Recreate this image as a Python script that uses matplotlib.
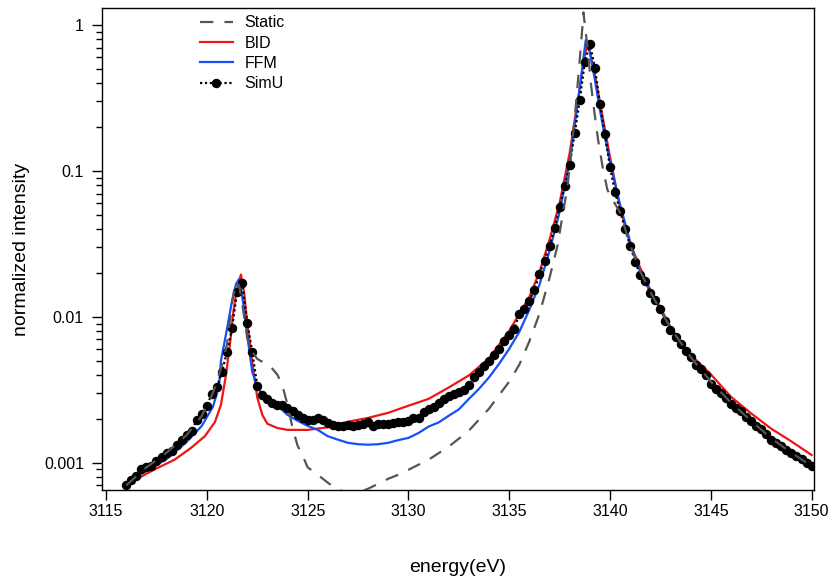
import numpy as np
import matplotlib
matplotlib.use("Agg")
import matplotlib.pyplot as plt
from matplotlib.ticker import FixedLocator, FixedFormatter, LogLocator, NullFormatter

plt.rcParams['font.family'] = ['Liberation Sans', 'DejaVu Sans']

# Static calculation (grey dashed)
static_e = [3116.0, 3117.0, 3118.0, 3119.0, 3119.75, 3120.25, 3120.5, 3120.75, 3121.0,
            3121.25, 3121.45, 3121.6, 3121.8, 3122.0, 3122.25, 3122.5, 3122.75, 3123.0,
            3123.25, 3123.5, 3123.75, 3124.0, 3124.25, 3124.5, 3124.75, 3125.0, 3125.5,
            3126.0, 3126.5, 3127.0, 3127.5, 3128.0, 3128.5, 3129.0, 3129.5, 3130.0, 3131.0,
            3132.0, 3133.0, 3134.0, 3135.0, 3135.5, 3136.0, 3136.5, 3137.0, 3137.4, 3137.65,
            3137.89, 3138.14, 3138.3, 3138.47, 3138.63, 3138.68, 3138.88, 3139.05, 3139.21,
            3139.41, 3139.63, 3139.87, 3140.2, 3140.5, 3141.0, 3141.5, 3142.0, 3143.0,
            3144.0, 3145.0, 3146.0, 3147.0, 3148.0, 3149.0, 3150.0]
static_i = [0.0007, 0.00093, 0.00117, 0.00155, 0.0021, 0.0029, 0.0036, 0.0047, 0.0065,
            0.0125, 0.0176, 0.0163, 0.0112, 0.00718, 0.00576, 0.00515, 0.00492, 0.00469,
            0.00441, 0.00401, 0.00337, 0.0025, 0.00174, 0.00131, 0.00112, 0.00093, 0.000828,
            0.00073, 0.000653, 0.000623, 0.000623, 0.000664, 0.000718, 0.000777, 0.000828,
            0.000895, 0.00105, 0.00129, 0.00166, 0.00235, 0.0036, 0.0047, 0.0068, 0.0105,
            0.0185, 0.031, 0.05, 0.078, 0.163, 0.276, 0.518, 0.97, 1.22, 0.71, 0.399, 0.262,
            0.163, 0.107, 0.0742, 0.061, 0.052, 0.031, 0.0205, 0.0148, 0.0084, 0.0053,
            0.0036, 0.00258, 0.00194, 0.00147, 0.00117, 0.00095]

# BID (red)
bid_e = [3116.0, 3116.5, 3117.4, 3118.4, 3119.2, 3119.9, 3120.4, 3120.7, 3120.95, 3121.2,
         3121.3, 3121.45, 3121.69, 3121.85, 3122.0, 3122.25, 3122.5, 3122.75, 3123.0,
         3123.5, 3124.0, 3125.0, 3126.0, 3127.0, 3128.0, 3129.0, 3130.0, 3131.0, 3132.0,
         3133.0, 3134.0, 3135.0, 3135.5, 3136.0, 3136.5, 3137.0, 3137.5, 3138.0, 3138.25,
         3138.5, 3138.7, 3138.85, 3139.0, 3139.25, 3139.5, 3139.75, 3140.0, 3140.5, 3141.0,
         3141.5, 3142.0, 3142.5, 3143.0, 3143.5, 3144.0, 3145.0, 3146.0, 3147.0, 3148.0,
         3149.0, 3150.0]
bid_i = [0.0007, 0.00077, 0.0009, 0.00105, 0.00126, 0.00152, 0.0019, 0.0025, 0.0040, 0.0075,
         0.0105, 0.0145, 0.0195, 0.0146, 0.0092, 0.0049, 0.0028, 0.00213, 0.00185,
         0.00173, 0.00168, 0.00168, 0.00175, 0.00191, 0.00203, 0.0022, 0.00246, 0.00274,
         0.00328, 0.00397, 0.0052, 0.00802, 0.0105, 0.0137, 0.0203, 0.0337, 0.0604, 0.133,
         0.224, 0.37, 0.575, 0.718, 0.653, 0.455, 0.297, 0.191, 0.125, 0.056, 0.0315,
         0.0217, 0.0153, 0.0115, 0.00855, 0.00675, 0.0055, 0.00404, 0.00283, 0.00218,
         0.00171, 0.0014, 0.00113]

# FFM (blue)
ffm_e = [3116.0, 3116.25, 3117.25, 3118.0, 3119.0, 3119.75, 3120.3, 3120.6, 3120.7, 3121.0,
         3121.25, 3121.45, 3121.6, 3121.8, 3122.0, 3122.25, 3122.5, 3122.75, 3123.0, 3123.5,
         3124.0, 3124.5, 3125.0, 3125.5, 3126.0, 3126.5, 3127.0, 3127.5, 3128.0, 3128.5,
         3129.0, 3129.5, 3130.0, 3130.5, 3131.0, 3131.5, 3132.0, 3132.5, 3133.0, 3133.5,
         3134.0, 3134.5, 3135.0, 3135.5, 3136.0, 3136.5, 3137.0, 3137.5, 3138.0, 3138.25,
         3138.5, 3138.7, 3138.8, 3138.9, 3139.0, 3139.25, 3139.5, 3139.75, 3140.0, 3140.5,
         3141.0, 3141.5, 3142.0, 3142.5, 3143.0, 3143.5, 3144.0, 3145.0, 3146.0, 3147.0,
         3148.0, 3149.0, 3150.0]
ffm_i = [0.0007, 0.000765, 0.000924, 0.00106, 0.00139, 0.00179, 0.00242, 0.00332, 0.005,
         0.00828, 0.0129, 0.0168, 0.0182, 0.0125, 0.00753, 0.0042, 0.00332, 0.00292, 0.0027,
         0.00246, 0.00213, 0.00194, 0.00179, 0.00168, 0.00152, 0.00144, 0.00137, 0.00134,
         0.00133, 0.00134, 0.00137, 0.00143, 0.00148, 0.0016, 0.00177, 0.00189, 0.0021,
         0.00232, 0.00274, 0.00321, 0.00385, 0.00477, 0.00604, 0.00789, 0.0112, 0.0166,
         0.0283, 0.0524, 0.117, 0.207, 0.37, 0.623, 0.789, 0.765, 0.653, 0.42, 0.262, 0.171,
         0.115, 0.0585, 0.0327, 0.0203, 0.0148, 0.0112, 0.00828, 0.00653, 0.00524, 0.00359,
         0.00258, 0.00194, 0.00148, 0.00117, 0.00095]

# SimU (black dots), sampled every 0.25 eV from 3116 to 3150
sim_i = [0.000707, 0.000766, 0.000815, 0.00091,
         0.00094, 0.00095, 0.00103, 0.0011,
         0.00117, 0.00121, 0.00133, 0.00144,
         0.00156, 0.00166, 0.00197, 0.00217,
         0.00246, 0.00297, 0.00332, 0.0042,
         0.00576, 0.0084, 0.0148, 0.0171,
         0.0091, 0.00576, 0.00337, 0.00292,
         0.00274, 0.00258, 0.00248, 0.0025,
         0.00238, 0.00225, 0.00213, 0.00203,
         0.00197, 0.00196, 0.00203, 0.00197,
         0.00188, 0.00182, 0.00178, 0.00179,
         0.00182, 0.00179, 0.00182, 0.00185,
         0.00189, 0.00179, 0.00184, 0.00185,
         0.00184, 0.00188, 0.00191, 0.00191,
         0.00194, 0.00202, 0.00203, 0.00224,
         0.00232, 0.00242, 0.00258, 0.00272,
         0.00288, 0.00297, 0.00304, 0.00314,
         0.00342, 0.00388, 0.0042, 0.00458,
         0.005, 0.00545, 0.00599, 0.00685,
         0.00753, 0.00828, 0.0105, 0.0114,
         0.0129, 0.0153, 0.0197, 0.0242,
         0.0306, 0.0407, 0.0567, 0.0789,
         0.11, 0.182, 0.306, 0.558,
         0.741, 0.507, 0.288, 0.178,
         0.106, 0.0718, 0.0532, 0.0401,
         0.0306, 0.0238, 0.0194, 0.0175,
         0.0145, 0.0131, 0.0114, 0.0094,
         0.00815, 0.00724, 0.00653, 0.00581,
         0.00528, 0.00469, 0.00441, 0.00397,
         0.00348, 0.00321, 0.00302, 0.00279,
         0.00254, 0.00236, 0.00227, 0.00205,
         0.00192, 0.00179, 0.0017, 0.00158,
         0.00143, 0.00137, 0.0013, 0.00123,
         0.00117, 0.00111, 0.00106, 0.001,
         0.00095]
sim_e = 3116.0 + 0.25 * np.arange(len(sim_i))

x_ticks = [3115, 3120, 3125, 3130, 3135, 3140, 3145, 3150]
y_ticks = [0.001, 0.01, 0.1, 1]
y_labels = ["0.001", "0.01", "0.1", "1"]

fig = plt.figure(figsize=(8.33, 5.77), dpi=100)
ax = fig.add_axes([0.1225, 0.150, 0.8547, 0.836])

ax.plot(static_e, static_i, color="#555555", lw=1.6, ls=(0, (6, 5)), label="Static", zorder=4)
ax.plot(bid_e, bid_i, color="#f01414", lw=1.6, label="BID", zorder=2)
ax.plot(ffm_e, ffm_i, color="#1450f5", lw=1.6, label="FFM", zorder=2.1)
ax.plot(sim_e, sim_i, color="black", lw=1.6, ls=(0, (1, 1.2)), marker="o", ms=5.8,
        label="SimU", zorder=3)

ax.set_yscale("log")
ax.set_xlim(3114.8, 3150.12)
ax.set_ylim(0.000646, 1.306)

ax.xaxis.set_major_locator(FixedLocator(x_ticks))
ax.yaxis.set_major_locator(FixedLocator(y_ticks))
ax.yaxis.set_major_formatter(FixedFormatter(y_labels))
ax.yaxis.set_minor_locator(LogLocator(base=10, subs=np.arange(2, 10)))
ax.yaxis.set_minor_formatter(NullFormatter())

ax.tick_params(axis="both", which="major", direction="out", length=7, width=1,
               labelsize=11.5)
ax.tick_params(axis="x", which="major", pad=2.5)
ax.tick_params(axis="y", which="major", pad=6)
ax.tick_params(axis="y", which="minor", direction="out", length=4, width=1)
for s in ax.spines.values():
    s.set_linewidth(1)

ax.set_xlabel("energy(eV)", fontsize=14, labelpad=29)
ax.set_ylabel("normalized intensity", fontsize=14, labelpad=10)

ax.legend(loc="upper left", bbox_to_anchor=(0.137, 0.985), frameon=False, fontsize=11.5,
          handlelength=2.1, labelspacing=0.33, borderpad=0, borderaxespad=0,
          handletextpad=0.7, numpoints=1)

fig.savefig("out.png", dpi=100)
